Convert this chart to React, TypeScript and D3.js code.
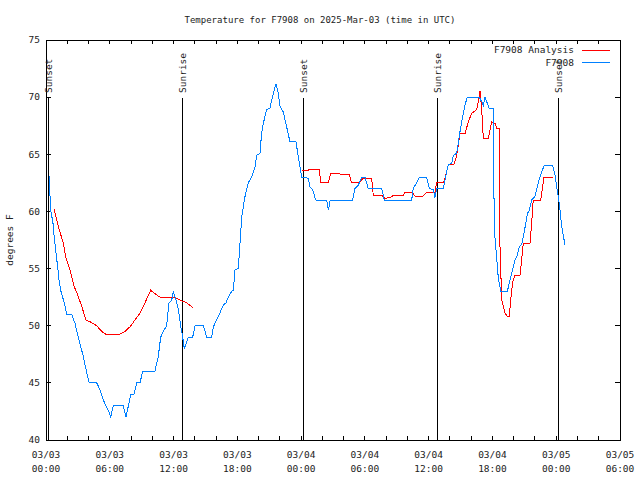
import React from "react";
import * as d3 from "d3";

// Hours since 2025-03-03 00:00 UTC
const obsHours = [0.31,0.40,0.50,0.63,0.78,0.94,1.10,1.25,1.41,1.72,1.95,2.42,2.73,3.04,3.51,3.83,4.07,4.77,5.08,5.39,5.64,5.86,6.09,6.33,7.27,7.53,7.97,8.28,8.53,8.84,9.10,10.25,10.41,10.56,10.79,11.03,11.35,11.57,11.83,11.98,12.23,12.45,12.67,12.86,13.01,13.24,13.39,13.80,14.02,14.80,15.12,15.59,15.74,16.21,16.68,16.93,17.15,17.47,17.62,17.78,18.09,18.25,18.41,18.56,18.72,19.03,19.35,19.66,19.82,20.13,20.29,20.44,20.76,21.07,21.23,21.54,21.64,21.85,22.01,22.32,22.64,22.95,23.52,23.73,23.89,24.05,24.68,24.84,25.09,25.31,25.40,26.41,26.56,26.72,26.88,28.85,29.07,29.38,29.70,30.01,30.32,31.58,31.83,34.40,34.55,34.87,35.12,35.81,36.06,36.43,36.59,36.75,37.38,37.54,37.70,37.85,38.17,38.32,38.64,38.79,38.95,39.11,39.26,39.42,39.63,40.76,40.99,41.14,41.30,41.46,41.70,42.08,42.17,42.40,42.55,42.78,43.40,43.65,43.90,44.12,44.28,44.53,44.75,44.90,45.15,45.28,45.47,45.69,46.00,46.16,46.31,46.54,46.85,47.67,47.88,48.04,48.29,48.51,48.82];
const obsTemps = [63.1,60.7,59.7,59.25,57.7,56.4,55.1,53.8,53.0,52.0,51.0,51.0,50.2,49.0,47.3,45.9,45.0,45.0,44.4,43.5,43.0,42.6,42.0,43.0,43.0,42.0,44.0,44.0,45.0,45.0,46.0,46.0,46.7,47.3,49.0,49.5,50.0,52.0,52.25,53.0,52.25,51.4,50.0,49.0,48.0,48.6,49.0,49.0,50.0,50.0,49.0,49.0,49.9,50.8,51.8,52.0,52.5,53.0,53.1,54.9,55.0,57.2,59.5,60.4,61.3,62.5,63.0,63.9,64.9,65.1,66.9,67.7,68.9,69.05,69.75,70.9,71.1,70.4,69.2,68.7,67.4,66.1,66.1,64.8,63.9,63.0,62.9,62.1,61.9,61.2,61.0,61.0,60.1,60.9,61.0,61.0,62.0,62.3,63.0,63.0,62.0,62.0,61.0,61.0,62.0,62.5,63.0,63.0,62.0,61.9,61.2,62.0,62.0,62.75,63.5,64.1,64.2,64.9,65.1,66.0,67.0,67.85,68.6,69.3,70.0,70.0,69.6,69.3,70.0,69.6,69.0,69.0,58.5,55.9,54.2,53.0,53.0,54.0,54.9,55.75,56.0,56.9,57.1,57.8,59.0,59.8,60.1,61.0,61.3,61.9,62.5,63.2,64.0,64.0,63.2,62.2,60.7,58.7,57.1];

// Analysis series, two segments (gap between)
const anaHours1 = [0.78,0.94,1.25,1.63,1.88,2.26,2.66,2.98,3.36,3.76,4.14,4.77,5.24,5.71,6.80,7.43,7.90,8.37,8.84,9.31,9.85,10.25,10.72,11.98,12.61,13.24,13.80];
const anaTemps1 = [60.2,59.5,58.4,57.2,55.9,54.9,53.4,52.7,51.7,50.5,50.35,50.0,49.5,49.2,49.2,49.5,49.9,50.5,51.1,52.0,53.1,52.8,52.5,52.5,52.25,52.0,51.6];
const anaHours2 = [24.05,24.68,24.77,25.71,25.84,26.56,26.78,27.59,27.75,28.53,28.76,29.38,29.54,29.85,30.64,30.73,30.79,31.58,31.89,32.36,32.67,33.61,33.77,34.40,34.71,35.49,35.81,36.59,36.75,37.38,37.54,37.85,38.38,38.64,38.95,39.42,39.73,40.05,40.52,40.67,40.83,40.99,41.14,41.61,41.77,41.93,42.24,42.40,42.64,42.71,42.87,43.02,43.18,43.40,43.58,43.72,43.90,44.12,44.59,44.75,44.90,45.53,45.69,45.84,46.54,46.85,47.67];
const anaTemps2 = [63.6,63.6,63.7,63.7,62.55,62.55,63.3,63.3,63.2,63.2,62.5,62.5,62.6,62.9,62.9,62.0,61.4,61.4,61.15,61.2,61.4,61.4,61.7,61.7,61.35,61.35,61.7,61.7,62.5,62.5,62.9,64.1,64.1,64.9,66.8,66.8,67.85,68.6,68.9,69.6,70.5,68.9,66.4,66.4,67.1,67.85,67.7,67.3,67.3,56.9,52.25,51.7,51.1,50.8,50.8,52.25,53.85,54.4,54.4,55.75,57.2,57.2,59.0,61.0,61.0,63.0,63.0];

const sunTimes = ["2025-03-03T00:09Z","2025-03-03T12:46Z","2025-03-04T00:12Z","2025-03-04T12:45Z","2025-03-05T00:12Z"];
const sunLabels = ["Sunset","Sunrise","Sunset","Sunrise","Sunset"];

const yTicks = [40,45,50,55,60,65,70,75];
const xLabelDates = ["03/03","03/03","03/03","03/03","03/04","03/04","03/04","03/04","03/05","03/05"];
const xLabelTimes = ["00:00","06:00","12:00","18:00","00:00","06:00","12:00","18:00","00:00","06:00"];

const titleText = "Temperature for F7908 on 2025-Mar-03 (time in UTC)";
const seriesNames = ["F7908 Analysis","F7908"];

const W = 640, H = 480;
const L = 46, R = 620, T = 40, B = 440;
const start = new Date("2025-03-03T00:00Z");
const end = new Date("2025-03-05T06:00Z");
const font = "'DejaVu Sans Mono', monospace";

export default function App() {
  const x = d3.scaleUtc().domain([start, end]).range([L, R]);
  const y = d3.scaleLinear().domain([40, 75]).range([B, T]);
  const h2d = (h: number) => new Date(start.getTime() + h * 3600000);
  const line = d3.line<[number, number]>().x(d => x(h2d(d[0]))).y(d => y(d[1]));
  const obs = obsHours.map((h, i) => [h, obsTemps[i]] as [number, number]);
  const a1 = anaHours1.map((h, i) => [h, anaTemps1[i]] as [number, number]);
  const a2 = anaHours2.map((h, i) => [h, anaTemps2[i]] as [number, number]);
  const minor = d3.utcHour.every(2)!.range(start, new Date(end.getTime() + 1));
  const major = d3.utcHour.every(6)!.range(start, new Date(end.getTime() + 1));
  const red = "#ff0000", blue = "#0080ff";
  return (
    <svg width={W} height={H} style={{ position: "fixed", left: 0, top: 0, background: "#fff" }} fontFamily={font} fill="#222">
      <rect x={0} y={0} width={W} height={H} fill="#fff" />
      <text x={320} y={23} fontSize={9} textAnchor="middle">{titleText}</text>
      <text transform={`translate(13,240) rotate(-90)`} fontSize={9.5} textAnchor="middle">degrees F</text>
      <g shapeRendering="crispEdges" stroke="#000">
        {yTicks.map(t => (
          <g key={t}>
            <line x1={L} x2={L + 5} y1={y(t)} y2={y(t)} />
            <line x1={R - 5} x2={R} y1={y(t)} y2={y(t)} />
          </g>
        ))}
        {minor.map((d, i) => (
          <g key={i}>
            <line x1={x(d)} x2={x(d)} y1={B} y2={B - 4} />
            <line x1={x(d)} x2={x(d)} y1={T} y2={T + 4} />
          </g>
        ))}
        <rect x={L} y={T} width={R - L} height={B - T} fill="none" />
      </g>
      {yTicks.map(t => (
        <text key={t} x={40} y={y(t)} dy="0.35em" fontSize={9.5} textAnchor="end">{t}</text>
      ))}
      {major.map((d, i) => (
        <g key={i} fontSize={9.5} textAnchor="middle">
          <text x={x(d)} y={458}>{xLabelDates[i]}</text>
          <text x={x(d)} y={472}>{xLabelTimes[i]}</text>
        </g>
      ))}
      {sunTimes.map((s, i) => {
        const sx = Math.round(x(new Date(s))) + 0.5;
        return (
          <g key={i}>
            <line x1={sx} x2={sx} y1={98} y2={B} stroke="#000" shapeRendering="crispEdges" />
            <text transform={`translate(${sx},93) rotate(-90)`} dy="0.35em" fontSize={9.5}>{sunLabels[i]}</text>
          </g>
        );
      })}
      <g fill="none" strokeWidth={1} shapeRendering="crispEdges">
        <path d={line(a1)!} stroke={red} />
        <path d={line(a2)!} stroke={red} />
        <path d={line(obs)!} stroke={blue} />
      </g>
      <g fontSize={9.5}>
        <text x={574} y={50} dy="0.35em" textAnchor="end">{seriesNames[0]}</text>
        <line x1={582} x2={610} y1={50.5} y2={50.5} stroke={red} shapeRendering="crispEdges" />
        <text x={574} y={63} dy="0.35em" textAnchor="end">{seriesNames[1]}</text>
        <line x1={582} x2={610} y1={62.5} y2={62.5} stroke={blue} shapeRendering="crispEdges" />
      </g>
    </svg>
  );
}
